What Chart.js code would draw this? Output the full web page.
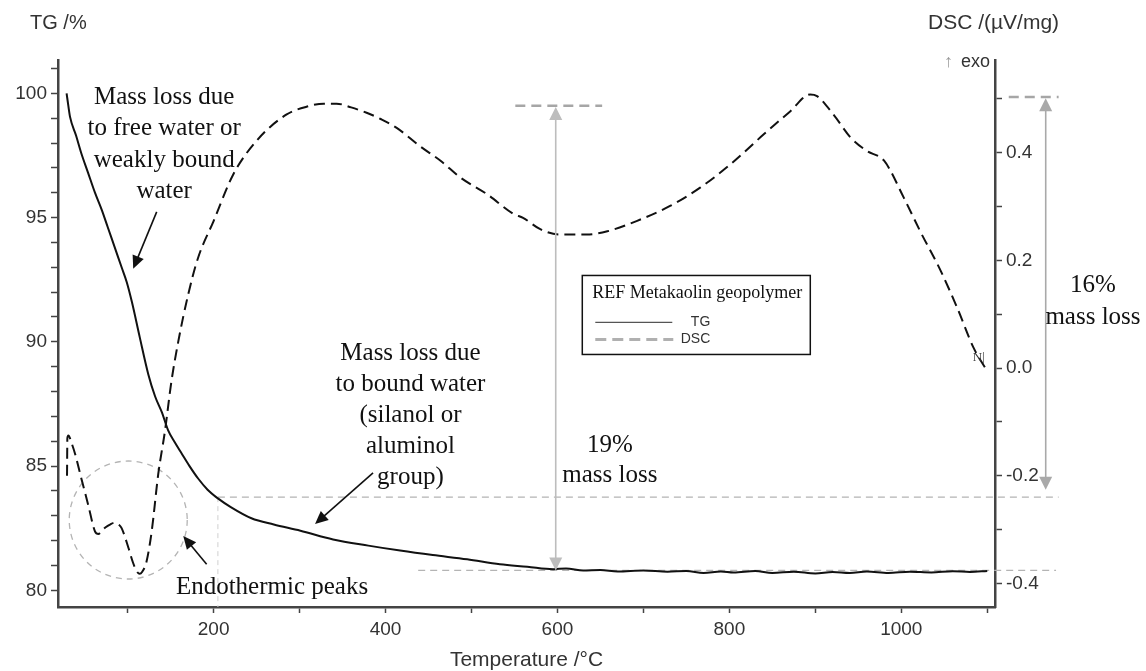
<!DOCTYPE html>
<html>
<head>
<meta charset="utf-8">
<script src="https://cdn.jsdelivr.net/npm/chart.js@4.4.1/dist/chart.umd.min.js"></script>
<style>
  html, body { margin: 0; padding: 0; background: #fff; }
  #wrap { width: 1146px; height: 671px; }
</style>
</head>
<body>
<div id="wrap"><canvas id="tgChart" width="1146" height="671"></canvas></div>
<script>
// --- data ---
const tgTemp = [29, 31, 33, 40, 46, 54, 62, 70, 77, 85, 93, 99, 105, 114, 124, 132, 140, 147, 155, 163, 172, 182, 193, 205, 220, 244, 270, 301, 339, 380, 417, 455, 495, 533, 565, 595, 610, 630, 650, 670, 700, 728, 750, 770, 790, 805, 830, 850, 875, 900, 920, 940, 960, 985, 1010, 1035, 1060, 1080, 1100];
const tgMass = [100.0, 99.5, 99.05, 98.3, 97.6, 96.8, 96.0, 95.3, 94.6, 93.8, 93.0, 92.4, 91.6, 90.2, 88.7, 87.8, 87.15, 86.45, 85.95, 85.5, 85.0, 84.5, 84.05, 83.7, 83.35, 82.9, 82.65, 82.4, 82.05, 81.8, 81.6, 81.42, 81.25, 81.05, 80.95, 80.85, 80.88, 80.8, 80.82, 80.76, 80.8, 80.75, 80.78, 80.7, 80.76, 80.72, 80.78, 80.7, 80.75, 80.68, 80.74, 80.7, 80.76, 80.7, 80.75, 80.72, 80.77, 80.74, 80.78];

const dscTemp = [29.5, 29.9, 31, 35, 39, 46, 54, 62, 66, 70, 74, 80, 85, 90, 93, 101, 106, 110.5, 114, 117, 122, 128, 135.6, 143.4, 151, 159, 170.5, 182, 200, 223, 250, 285, 310, 328, 343, 360, 378, 395, 413, 440, 464, 487, 518, 549, 560, 580, 603, 634, 658, 692, 731, 766, 801, 840, 871, 894, 902, 921, 941, 960, 980, 1003, 1022, 1046, 1065, 1084, 1100];
const dscSignal = [-0.20, -0.13, -0.125, -0.14, -0.16, -0.204, -0.253, -0.303, -0.308, -0.302, -0.296, -0.290, -0.287, -0.291, -0.297, -0.334, -0.36, -0.377, -0.382, -0.378, -0.359, -0.303, -0.197, -0.117, -0.024, 0.05, 0.137, 0.205, 0.273, 0.36, 0.422, 0.471, 0.486, 0.491, 0.491, 0.484, 0.474, 0.462, 0.446, 0.412, 0.385, 0.354, 0.323, 0.286, 0.279, 0.258, 0.248, 0.248, 0.254, 0.273, 0.301, 0.335, 0.378, 0.434, 0.477, 0.508, 0.505, 0.471, 0.428, 0.403, 0.385, 0.316, 0.254, 0.18, 0.112, 0.038, -0.006];

// tick marks and the ones that carry a label
const xTicks = [100, 200, 300, 400, 500, 600, 700, 800, 900, 1000, 1100];
const xTickLabels = [200, 400, 600, 800, 1000];
const tgTicks = [80, 81, 82, 83, 84, 85, 86, 87, 88, 89, 90, 91, 92, 93, 94, 95, 96, 97, 98, 99, 100, 101];
const tgTickLabels = [80, 85, 90, 95, 100];
const dscTicks = [-0.4, -0.3, -0.2, -0.1, 0.0, 0.1, 0.2, 0.3, 0.4, 0.5];
const dscTickLabels = [-0.4, -0.2, 0.0, 0.2, 0.4];

const SANS = '"Liberation Sans", Arial, sans-serif';
const SERIF = '"Liberation Serif", "Times New Roman", serif';

function arrow(ctx, x1, y1, x2, y2, color, width, len, half, both) {
    const ang = Math.atan2(y2 - y1, x2 - x1);
    ctx.save();
    ctx.strokeStyle = color;
    ctx.fillStyle = color;
    ctx.lineWidth = width;
    ctx.setLineDash([]);
    const sx = both ? x1 + Math.cos(ang) * len * 0.8 : x1;
    const sy = both ? y1 + Math.sin(ang) * len * 0.8 : y1;
    ctx.beginPath();
    ctx.moveTo(sx, sy);
    ctx.lineTo(x2 - Math.cos(ang) * len * 0.8, y2 - Math.sin(ang) * len * 0.8);
    ctx.stroke();
    const head = (tx, ty, a) => {
        ctx.beginPath();
        ctx.moveTo(tx, ty);
        ctx.lineTo(tx - Math.cos(a) * len - Math.sin(a) * half, ty - Math.sin(a) * len + Math.cos(a) * half);
        ctx.lineTo(tx - Math.cos(a) * len + Math.sin(a) * half, ty - Math.sin(a) * len - Math.cos(a) * half);
        ctx.closePath();
        ctx.fill();
    };
    head(x2, y2, ang);
    if (both) head(x1, y1, ang + Math.PI);
    ctx.restore();
}

function dashLine(ctx, x1, y1, x2, y2, color, width, dash) {
    ctx.save();
    ctx.strokeStyle = color;
    ctx.lineWidth = width;
    ctx.setLineDash(dash);
    ctx.beginPath();
    ctx.moveTo(x1, y1);
    ctx.lineTo(x2, y2);
    ctx.stroke();
    ctx.restore();
}

function textLines(ctx, lines, cx, cy, gap, font, color) {
    ctx.save();
    ctx.font = font;
    ctx.fillStyle = color;
    ctx.textAlign = 'center';
    ctx.textBaseline = 'middle';
    lines.forEach((l, i) => ctx.fillText(l, cx, cy + i * gap));
    ctx.restore();
}

// --- annotations: guide lines, circle, arrows, notes ---
const notesPlugin = {
    id: 'notes',
    beforeDatasetsDraw(chart) {
        const { ctx, scales: { x, y }, chartArea } = chart;
        const px = v => x.getPixelForValue(v);
        const py = v => y.getPixelForValue(v);
        const grey = '#b4b4b4';
        // level lines
        dashLine(ctx, px(205), py(83.75), px(1183), py(83.75), grey, 1.3, [7, 5]);
        dashLine(ctx, px(438), py(80.8), px(1180), py(80.8), grey, 1.3, [7, 5]);
        dashLine(ctx, px(205), py(83.75), px(205), chartArea.bottom, '#d0d0d0', 1, [5, 4]);
        dashLine(ctx, px(551), py(99.5), px(652), py(99.5), '#a6a6a6', 2.5, [10, 6]);
        dashLine(ctx, px(1125), py(99.85), px(1183), py(99.85), '#a6a6a6', 2.5, [10, 6]);
        // endothermic circle
        ctx.save();
        ctx.strokeStyle = grey;
        ctx.lineWidth = 1.3;
        ctx.setLineDash([6, 5]);
        ctx.beginPath();
        ctx.arc(px(100.7), py(82.83), 59, 0, Math.PI * 2);
        ctx.stroke();
        ctx.restore();
    },
    afterDatasetsDraw(chart) {
        const { ctx, scales: { x, y } } = chart;
        const px = v => x.getPixelForValue(v);
        const py = v => y.getPixelForValue(v);
        const ink = '#111';
        const f = '25px ' + SERIF;

        // mass loss arrows
        arrow(ctx, px(598), py(80.8), px(598), py(99.45), '#bdbdbd', 1.6, 13, 6.5, true);
        arrow(ctx, px(1168), py(99.8), px(1168), py(84.05), '#a9a9a9', 1.6, 13, 6.5, true);

        // pointer arrows
        arrow(ctx, px(133.8), py(95.23), px(106.5), py(92.94), ink, 1.6, 13, 6, false);
        arrow(ctx, px(385.5), py(84.73), px(318), py(82.67), ink, 1.6, 13, 6, false);
        arrow(ctx, px(191.9), py(81.05), px(164.7), py(82.19), ink, 1.6, 13, 6, false);

        // notes
        textLines(ctx, ['Mass loss due', 'to free water or', 'weakly bound', 'water'], px(142.5), py(99.85), 31.5, f, ink);
        textLines(ctx, ['Mass loss due', 'to bound water', '(silanol or', 'aluminol', 'group)'], px(429), py(89.53), 31, f, ink);
        textLines(ctx, ['19%', 'mass loss'], px(661), py(85.82), 30, f, ink);
        textLines(ctx, ['Endothermic peaks'], px(268), py(80.13), 0, f, ink);
        textLines(ctx, ['16%', 'mass loss'], px(1223), py(92.27), 32, f, ink);
        textLines(ctx, ['N|'], px(1090), py(89.37), 0, '13px ' + SERIF, '#333');

        // legend box
        const lx = px(628.9), ly = py(92.67);
        ctx.save();
        ctx.strokeStyle = '#111';
        ctx.lineWidth = 1.5;
        ctx.strokeRect(lx, ly, 228, 79);
        ctx.fillStyle = '#111';
        ctx.font = '18px ' + SERIF;
        ctx.textBaseline = 'middle';
        ctx.textAlign = 'left';
        ctx.fillText('REF Metakaolin geopolymer', lx + 10, ly + 18);
        ctx.restore();
        dashLine(ctx, lx + 13, ly + 47, lx + 90, ly + 47, '#555', 1.2, []);
        dashLine(ctx, lx + 13, ly + 64, lx + 91, ly + 64, '#b0b0b0', 3, [11, 6]);
        ctx.save();
        ctx.font = '14px ' + SANS;
        ctx.fillStyle = '#333';
        ctx.textAlign = 'right';
        ctx.textBaseline = 'middle';
        ctx.fillText('TG', lx + 128, ly + 47);
        ctx.fillText('DSC', lx + 128, ly + 64);
        ctx.restore();
    },
    afterDraw(chart) {
        const { ctx, chartArea } = chart;
        ctx.save();
        ctx.fillStyle = '#333';
        ctx.textBaseline = 'middle';
        ctx.textAlign = 'left';
        ctx.font = '20px ' + SANS;
        ctx.fillText('TG /%', 30, 23);
        ctx.font = '21px ' + SANS;
        ctx.fillText('DSC /(\u00b5V/mg)', 928, 23);
        ctx.textAlign = 'center';
        ctx.font = '21px ' + SANS;
        ctx.fillText('Temperature /\u00b0C', (chartArea.left + chartArea.right) / 2, 660);
        ctx.textAlign = 'right';
        ctx.font = '18px ' + SANS;
        ctx.fillText('exo', chartArea.right - 5, chartArea.top + 2);
        ctx.fillStyle = '#999';
        ctx.fillText('\u2191', chartArea.right - 42, chartArea.top + 2);
        ctx.restore();
    }
};

const axisColor = '#444';
const tickFont = { family: SANS, size: 19 };
const sameNum = (a, b) => Math.abs(a - b) < 1e-6;

new Chart(document.getElementById('tgChart'), {
    type: 'line',
    data: {
        datasets: [
            {
                label: 'TG',
                data: tgTemp.map((t, i) => ({ x: t, y: tgMass[i] })),
                borderColor: '#111',
                borderWidth: 2,
                pointRadius: 0,
                cubicInterpolationMode: 'monotone',
                yAxisID: 'y'
            },
            {
                label: 'DSC',
                data: dscTemp.map((t, i) => ({ x: t, y: dscSignal[i] })),
                borderColor: '#111',
                borderWidth: 2,
                borderDash: [11, 6],
                pointRadius: 0,
                cubicInterpolationMode: 'monotone',
                yAxisID: 'y2'
            }
        ]
    },
    options: {
        responsive: false,
        animation: false,
        layout: { padding: { top: 60, left: 0, right: 0, bottom: 0 } },
        plugins: { legend: { display: false }, tooltip: { enabled: false } },
        scales: {
            x: {
                type: 'linear',
                min: 19,
                max: 1109,
                border: { display: true, color: axisColor, width: 2.5 },
                grid: { drawOnChartArea: false, drawTicks: true, tickLength: 6, color: axisColor, tickWidth: 1.5 },
                ticks: {
                    padding: 5,
                    color: '#333',
                    font: tickFont,
                    maxRotation: 0,
                    autoSkip: false,
                    callback: v => xTickLabels.some(t => sameNum(t, v)) ? String(Math.round(v)) : ''
                },
                afterBuildTicks: s => { s.ticks = xTicks.map(v => ({ value: v })); },
                afterFit: s => { s.height = 64; }
            },
            y: {
                type: 'linear',
                position: 'left',
                min: 79.33,
                max: 101.34,
                border: { display: true, color: axisColor, width: 2.5 },
                grid: { drawOnChartArea: false, drawTicks: true, tickLength: 7, color: axisColor, tickWidth: 1.5 },
                ticks: {
                    padding: 4,
                    color: '#333',
                    font: tickFont,
                    autoSkip: false,
                    callback: v => tgTickLabels.some(t => sameNum(t, v)) ? String(Math.round(v)) : ''
                },
                afterBuildTicks: s => { s.ticks = tgTicks.map(v => ({ value: v })); },
                afterFit: s => { s.width = 58; }
            },
            y2: {
                type: 'linear',
                position: 'right',
                min: -0.4435,
                max: 0.572,
                border: { display: true, color: axisColor, width: 2.5 },
                grid: { drawOnChartArea: false, drawTicks: true, tickLength: 7, color: axisColor, tickWidth: 1.5 },
                ticks: {
                    padding: 4,
                    color: '#333',
                    font: tickFont,
                    autoSkip: false,
                    callback: v => dscTickLabels.some(t => sameNum(t, v)) ? v.toFixed(1) : ''
                },
                afterBuildTicks: s => { s.ticks = dscTicks.map(v => ({ value: v })); },
                afterFit: s => { s.width = 151; }
            }
        }
    },
    plugins: [notesPlugin]
});
</script>
</body>
</html>
